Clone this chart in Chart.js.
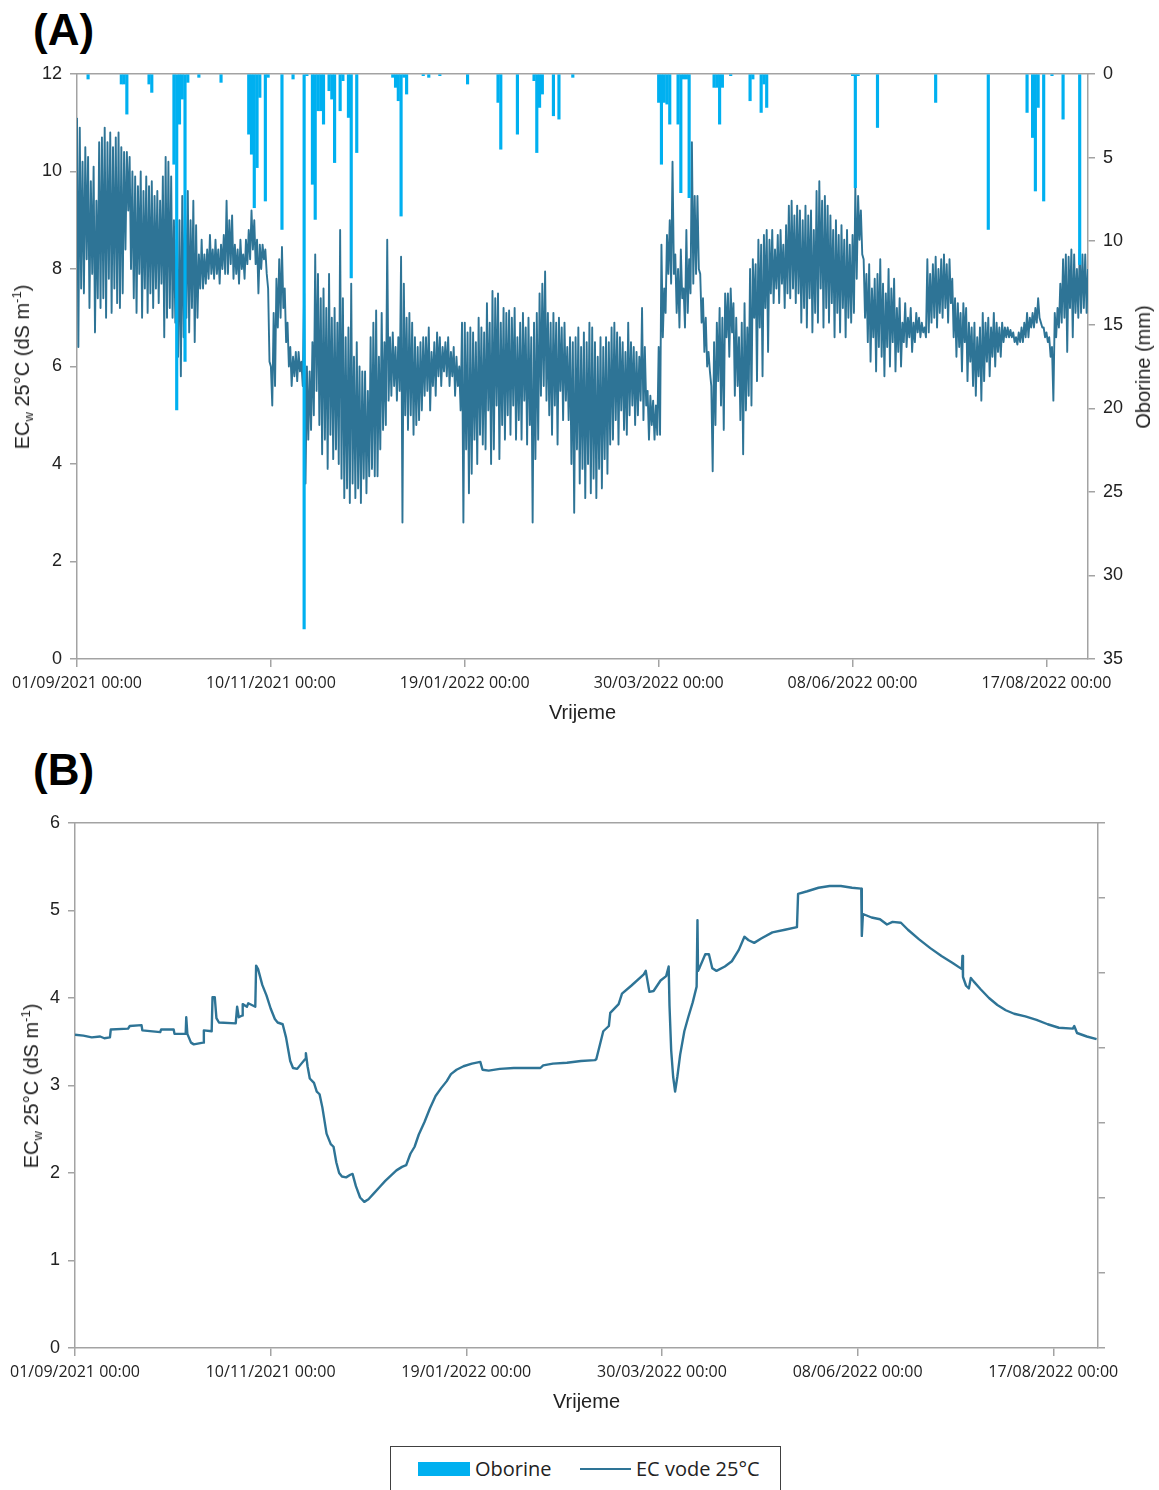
<!DOCTYPE html>
<html>
<head>
<meta charset="utf-8">
<script src="https://cdn.jsdelivr.net/npm/chart.js"></script>
<style>
  html, body { margin: 0; padding: 0; background: #fff; }
  body { width: 1159px; height: 1490px; position: relative; overflow: hidden;
         font-family: "Liberation Sans", Arial, sans-serif; color: #222; }
  .panel { position: absolute; left: 33px; font: bold 44px/44px "Liberation Sans", Arial, sans-serif; color: #000; }
  .vt { position: absolute; transform: translate(-50%, -50%) rotate(-90deg); white-space: nowrap;
        font: 20px/24px "Liberation Sans", Arial, sans-serif; color: #222; }
  .vt sub { font-size: 13px; vertical-align: -4px; line-height: 0; }
  .vt sup { font-size: 13px; vertical-align: 8px; line-height: 0; }
  canvas { position: absolute; left: 0; }
  #legend { position: absolute; left: 390px; top: 1446px; width: 391px; height: 70px; box-sizing: border-box;
            border: 1.5px solid #404040; font: 20px "Open Sans", sans-serif; color: #222; }
  #legend .sw { position: absolute; left: 27px; top: 15px; width: 52px; height: 14px; background: #00b0f0; }
  #legend .ln { position: absolute; left: 189px; top: 21px; width: 51px; height: 2px; background: #2e7496; }
  #legend .tx { position: absolute; top: 8px; line-height: 28px; white-space: nowrap; }
</style>
</head>
<body>
<div class="panel" style="top:8px">(A)</div>
<div class="panel" style="top:748px">(B)</div>

<canvas id="chartA" width="1159" height="680" style="top:60px"></canvas>
<canvas id="chartB" width="1159" height="619" style="top:810px"></canvas>

<div class="vt" style="left:22px; top:367px">EC<sub>w</sub> 25°C (dS m<sup>-1</sup>)</div>
<div class="vt" style="left:1143px; top:367px">Oborine (mm)</div>
<div class="vt" style="left:31px; top:1086px">EC<sub>w</sub> 25°C (dS m<sup>-1</sup>)</div>

<div id="legend">
  <div class="sw"></div><div class="tx" style="left:84px">Oborine</div>
  <div class="ln"></div><div class="tx" style="left:245px">EC vode 25°C</div>
</div>

<script>
// Time axis: days since 01/09/2021 00:00
const tickDays = [0, 70, 140, 210, 280, 350];
const tickLabels = ['01/09/2021 00:00', '10/11/2021 00:00', '19/01/2022 00:00',
                    '30/03/2022 00:00', '08/06/2022 00:00', '17/08/2022 00:00'];

// (A) daily precipitation, Oborine (mm)
const precipDay = [4, 16, 17, 18, 26, 27, 35, 36, 37, 38, 39, 40, 44, 52, 62, 63, 64, 65, 66, 68,
  69, 74, 78, 82, 83, 85, 86, 87, 88, 89, 91, 92, 93, 95, 96, 98, 99, 101, 114, 115,
  116, 117, 118, 119, 125, 127, 131, 141, 152, 153, 159, 165, 166, 167, 168, 172, 174, 179, 210, 211,
  212, 213, 214, 217, 218, 219, 220, 221, 230, 231, 232, 233, 236, 243, 244, 247, 248, 249, 280, 281,
  282, 289, 310, 329, 343, 345, 346, 347, 349, 352, 356, 362];
const precipMm = [0.3, 0.6, 0.6, 2.4, 0.6, 1.1, 5.4, 20.1, 3.0, 1.5, 17.2, 0.5, 0.2, 0.5, 3.6, 4.8, 8.0, 5.6, 1.4, 7.6,
  0.2, 9.3, 0.3, 33.2, 0.1, 6.6, 8.7, 2.2, 2.2, 3.0, 1.0, 1.5, 5.3, 2.2, 0.4, 2.6, 12.2, 4.7, 0.2, 0.8,
  1.6, 8.5, 0.2, 1.2, 0.1, 0.2, 0.1, 0.6, 1.7, 4.5, 3.6, 0.4, 4.7, 2.0, 1.2, 2.5, 2.7, 0.2, 1.7, 5.4,
  1.7, 1.8, 3.0, 3.0, 7.1, 0.3, 0.3, 7.4, 0.8, 0.8, 3.0, 0.8, 0.1, 1.6, 0.3, 2.3, 0.6, 2.0, 0.1, 6.8,
  0.1, 3.2, 1.7, 9.3, 2.3, 3.8, 7.0, 2.0, 7.6, 0.1, 2.7, 11.4];

// (A) EC of water at 25°C: daily maximum and minimum readings (dS/m), day 0..365
const ecHigh = [
  11.1, 10.9, 10.2, 10.5, 10.3, 9.8, 10.1, 9.4, 10.6, 10.7,
  10.9, 10.6, 10.8, 10.5, 10.7, 10.8, 10.5, 10.4, 10.4, 10.3,
  10.0, 9.9, 9.7, 10.0, 9.6, 9.9, 9.7, 9.8, 9.5, 9.6,
  9.4, 9.9, 10.3, 10.2, 9.9, 9.0, 8.6, 9.0, 9.5, 9.3,
  9.6, 9.0, 9.4, 8.9, 8.3, 8.6, 8.3, 8.4, 8.7, 8.4,
  8.6, 8.4, 8.5, 8.7, 9.4, 9.0, 9.1, 8.5, 8.4, 8.6,
  8.3, 8.6, 8.8, 9.2, 9.0, 8.6, 8.5, 8.5, 8.4, 7.6,
  6.0, 7.1, 7.8, 8.2, 8.45, 7.6, 6.9, 6.4, 6.2, 6.3,
  6.3, 6.1, 7.5, 6.0, 5.9, 6.5, 8.3, 7.9, 7.4, 7.6,
  7.2, 7.9, 7.0, 7.2, 6.9, 8.8, 7.4, 6.6, 6.8, 7.7,
  6.2, 6.5, 6.0, 5.9, 5.9, 5.5, 6.6, 6.9, 7.15, 6.2,
  7.1, 6.5, 8.6, 6.6, 6.7, 6.4, 6.6, 8.25, 7.7, 7.0,
  7.1, 6.9, 6.6, 6.4, 6.5, 6.6, 6.6, 6.8, 6.3, 6.5,
  6.7, 6.6, 6.4, 6.5, 6.6, 6.3, 6.4, 6.2, 6.0, 6.9,
  6.9, 6.7, 6.8, 6.7, 6.5, 7.0, 6.8, 6.7, 7.3, 6.9,
  7.55, 7.4, 7.5, 6.9, 7.2, 7.1, 7.15, 7.0, 7.2, 6.6,
  6.9, 7.1, 6.8, 7.0, 6.6, 6.9, 7.1, 7.5, 7.7, 7.95,
  7.1, 6.9, 7.1, 6.9, 7.0, 6.8, 6.9, 6.4, 6.6, 6.5,
  6.6, 6.8, 6.4, 6.7, 6.5, 6.9, 6.8, 6.5, 6.2, 6.6,
  6.4, 6.6, 6.5, 6.8, 6.9, 6.7, 6.6, 6.5, 6.3, 6.9,
  6.5, 6.4, 6.3, 6.2, 7.2, 6.4, 5.5, 5.4, 5.3, 5.2,
  6.4, 8.5, 7.6, 8.7, 9.0, 10.2, 8.3, 8.0, 8.4, 7.6,
  8.8, 8.2, 10.6, 9.5, 9.5, 7.9, 7.4, 7.0, 6.3, 5.6,
  6.5, 6.9, 7.2, 7.0, 7.5, 7.5, 7.6, 7.3, 7.0, 6.6,
  6.9, 7.3, 6.8, 8.0, 8.2, 8.1, 8.6, 8.5, 8.7, 8.8,
  8.6, 8.8, 8.4, 8.7, 8.8, 8.5, 8.9, 9.3, 9.4, 9.1,
  9.3, 9.2, 9.0, 9.3, 9.1, 9.2, 8.8, 9.6, 9.8, 9.4,
  9.5, 9.3, 9.1, 8.8, 9.0, 8.7, 8.9, 8.6, 8.8, 8.5,
  8.7, 9.7, 9.5, 9.2, 8.2, 7.9, 8.1, 7.6, 7.8, 7.9,
  8.2, 7.7, 7.5, 8.0, 7.6, 7.8, 7.2, 7.4, 6.9, 7.3,
  7.0, 7.2, 6.9, 7.1, 7.0, 6.9, 6.8, 8.2, 7.9, 8.1,
  8.25, 8.0, 8.2, 8.3, 8.1, 8.2, 7.8, 7.4, 7.3, 7.1,
  7.3, 7.2, 6.9, 6.8, 6.9, 6.6, 6.8, 7.1, 6.9, 7.0,
  6.8, 7.1, 6.9, 6.8, 6.9, 6.8, 6.8, 6.75, 6.7, 6.6,
  6.7, 6.8, 6.9, 7.1, 7.0, 7.1, 7.2, 7.4, 6.9, 6.8,
  6.7, 6.6, 6.4, 7.1, 7.2, 7.7, 8.2, 8.3, 8.25, 8.4,
  8.3, 8.0, 8.4, 8.3, 8.3, 8.0];
const ecLow = [
  6.4, 7.6, 7.5, 8.2, 7.2, 7.9, 6.7, 7.4, 7.2, 7.4,
  7.0, 7.8, 7.1, 7.6, 7.3, 7.2, 7.5, 8.4, 9.2, 8.0,
  7.4, 7.1, 7.9, 7.0, 7.6, 7.1, 7.5, 7.2, 7.6, 7.3,
  7.7, 6.6, 7.0, 7.2, 7.0, 6.9, 6.2, 5.8, 6.6, 7.0,
  6.7, 7.2, 6.5, 7.0, 7.6, 7.6, 7.7, 7.8, 7.9, 7.8,
  7.9, 7.7, 8.0, 7.9, 7.9, 8.1, 7.8, 7.9, 7.7, 8.0,
  7.8, 8.1, 8.2, 8.4, 8.1, 7.5, 8.0, 8.2, 7.9, 6.1,
  5.2, 5.6, 6.8, 7.0, 7.2, 6.5, 6.0, 5.6, 5.8, 5.7,
  5.9, 5.6, 3.6, 4.5, 4.7, 5.0, 5.5, 4.8, 4.2, 4.5,
  3.9, 4.6, 4.1, 4.3, 4.0, 3.7, 3.3, 3.5, 3.2, 3.6,
  3.3, 3.5, 3.2, 3.7, 3.4, 3.75, 3.9, 3.75, 3.75, 4.3,
  4.7, 4.8, 5.3, 5.4, 5.6, 5.3, 5.5, 2.8, 5.0, 4.7,
  5.0, 4.6, 4.8, 4.9, 5.1, 5.4, 5.5, 5.1, 5.6, 5.4,
  5.8, 5.6, 5.9, 5.8, 5.6, 5.8, 5.4, 5.6, 5.1, 2.8,
  4.3, 3.4, 3.8, 4.5, 4.0, 4.6, 4.4, 4.3, 5.1, 4.0,
  4.3, 5.2, 4.1, 4.8, 4.5, 5.0, 4.6, 5.2, 4.5, 4.9,
  4.5, 5.3, 4.4, 4.8, 2.8, 4.1, 4.5, 5.4, 5.6, 5.3,
  5.0, 4.6, 5.2, 4.4, 5.5, 4.9, 5.3, 4.9, 4.0, 3.0,
  4.3, 3.6, 3.9, 3.3, 4.0, 3.4, 3.7, 3.3, 3.9, 3.5,
  4.1, 3.8, 4.4, 4.5, 4.9, 4.4, 5.1, 4.7, 4.6, 5.0,
  5.2, 4.8, 5.0, 5.3, 4.9, 5.2, 4.5, 4.8, 4.5, 4.6,
  4.6, 6.6, 7.1, 7.9, 7.7, 7.9, 7.1, 6.8, 7.4, 6.8,
  7.1, 7.5, 7.7, 7.9, 8.0, 6.9, 6.3, 6.0, 5.9, 3.85,
  4.8, 5.7, 5.2, 4.7, 6.6, 6.2, 6.7, 5.4, 5.6, 4.9,
  4.2, 5.1, 5.4, 5.2, 7.0, 5.7, 6.8, 5.8, 7.2, 6.3,
  7.5, 7.3, 7.6, 7.3, 7.7, 7.2, 7.5, 7.4, 7.6, 7.3,
  7.5, 6.9, 7.2, 6.8, 7.4, 6.7, 7.1, 6.9, 7.6, 6.8,
  7.2, 6.9, 7.3, 6.6, 7.1, 6.7, 7.2, 6.6, 7.0, 6.9,
  7.1, 7.8, 8.6, 8.3, 7.0, 6.5, 6.1, 6.6, 5.9, 6.4,
  6.2, 5.8, 6.4, 6.0, 6.5, 5.9, 6.3, 6.0, 6.5, 6.4,
  6.6, 6.3, 6.5, 6.7, 6.6, 6.7, 6.6, 6.7, 6.9, 7.0,
  6.8, 7.1, 7.0, 7.2, 6.9, 7.3, 6.6, 6.2, 6.4, 5.9,
  6.5, 5.7, 6.1, 5.6, 5.4, 5.8, 5.3, 5.7, 6.1, 5.8,
  6.2, 6.0, 6.3, 6.2, 6.5, 6.6, 6.6, 6.6, 6.5, 6.45,
  6.5, 6.5, 6.6, 6.6, 6.8, 6.8, 6.9, 7.0, 6.8, 6.6,
  6.5, 6.2, 5.3, 6.6, 6.8, 6.9, 7.0, 6.3, 7.2, 6.6,
  7.1, 7.0, 7.1, 7.2, 7.1];

// (B) EC of water at 25°C, second site (day, dS/m)
const bDay = [0, 3, 6, 9, 10.5, 12.5, 12.8, 19, 19.6, 23.8, 24.1, 30.5, 30.8, 35.3, 35.6, 39.6, 39.8, 40.2, 41.5, 42.5,
  45.8, 46.1, 48.9, 49.2, 50.0, 50.6, 51.5, 57.5, 58.0, 58.6, 59.8, 60.0, 61.5, 62.0, 64.5, 64.8, 65.5, 67.0, 68.5, 70.0,
  71.5, 72.5, 74.3, 75.5, 77.0, 78.0, 79.5, 81.0, 82.3, 82.6, 83.2, 84.0, 85.5, 86.5, 87.5, 88.5, 90.0, 91.5, 92.5, 93.5,
  94.5, 95.5, 97.0, 98.5, 99.3, 100.5, 102.0, 103.5, 105.0, 107.0, 109.0, 111.0, 113.0, 115.0, 117.0, 118.5, 120.0, 121.5, 123.0, 125.0,
  127.0, 129.0, 131.0, 133.0, 134.5, 136.5, 139.0, 142.0, 145.0, 145.8, 148.0, 152.0, 157.0, 162.0, 166.5, 167.5, 171.0, 176.0, 181.0, 186.0,
  186.5, 189.0, 191.0, 191.5, 194.5, 195.7, 199.0, 203.5, 204.2, 205.5, 207.0, 209.5, 211.5, 212.4, 212.7, 213.3, 214.0, 214.7, 215.5, 216.5,
  218.0, 219.4, 221.0, 222.4, 222.7, 222.9, 223.5, 225.5, 226.8, 228.0, 229.5, 232.5, 235.0, 237.5, 239.5, 241.0, 243.0, 245.5, 249.5, 254.0,
  258.3, 258.7, 262.0, 266.0, 270.0, 274.0, 278.0, 281.3, 281.5, 281.9, 285.0, 288.0, 290.5, 292.5, 295.5, 298.0, 302.0, 306.0, 310.0, 314.0,
  317.3, 317.5, 317.7, 318.8, 319.8, 320.5, 321.5, 324.0, 327.0, 330.0, 333.0, 336.0, 340.0, 344.0, 348.0, 352.0, 357.0, 357.5, 358.5, 362.0,
  365.5];
const bVal = [3.58, 3.57, 3.55, 3.56, 3.54, 3.55, 3.64, 3.65, 3.68, 3.69, 3.63, 3.61, 3.64, 3.64, 3.59, 3.59, 3.78, 3.59, 3.49, 3.47,
  3.49, 3.63, 3.62, 4.01, 4.01, 3.77, 3.72, 3.71, 3.90, 3.78, 3.80, 3.93, 3.90, 3.94, 3.90, 4.37, 4.33, 4.15, 4.03, 3.88,
  3.76, 3.72, 3.70, 3.55, 3.28, 3.20, 3.19, 3.25, 3.30, 3.37, 3.22, 3.08, 3.03, 2.93, 2.90, 2.75, 2.45, 2.33, 2.30, 2.12,
  2.00, 1.96, 1.95, 1.98, 1.99, 1.85, 1.72, 1.67, 1.70, 1.77, 1.84, 1.91, 1.97, 2.03, 2.07, 2.09, 2.22, 2.30, 2.44, 2.58,
  2.74, 2.88, 2.97, 3.05, 3.13, 3.18, 3.22, 3.25, 3.27, 3.18, 3.17, 3.19, 3.20, 3.20, 3.20, 3.23, 3.25, 3.26, 3.28, 3.29,
  3.30, 3.62, 3.68, 3.83, 3.93, 4.05, 4.14, 4.27, 4.31, 4.07, 4.08, 4.20, 4.25, 4.36, 3.91, 3.40, 3.10, 2.93, 3.10, 3.35,
  3.62, 3.78, 3.95, 4.13, 4.89, 4.31, 4.35, 4.50, 4.50, 4.34, 4.31, 4.36, 4.42, 4.55, 4.70, 4.66, 4.63, 4.68, 4.75, 4.78,
  4.81, 5.19, 5.22, 5.26, 5.28, 5.28, 5.26, 5.25, 4.71, 4.96, 4.92, 4.90, 4.84, 4.87, 4.86, 4.78, 4.67, 4.57, 4.48, 4.40,
  4.33, 4.48, 4.24, 4.14, 4.11, 4.23, 4.19, 4.10, 4.00, 3.92, 3.86, 3.82, 3.79, 3.75, 3.70, 3.66, 3.65, 3.68, 3.60, 3.56,
  3.53];

const EC_COLOR = '#2e7496';
const RAIN_COLOR = '#00b0f0';
const AXIS_COLOR = '#a3a3a3';
const TEXT_COLOR = '#222';

// Line points: each day contributes its maximum, then its minimum half a day later
const ecPoints = [];
ecHigh.forEach((h, d) => {
  ecPoints.push({ x: d, y: h });
  if (d < ecLow.length) ecPoints.push({ x: d + 0.5, y: ecLow[d] });
});
const rainPoints = precipDay.map((d, i) => ({ x: d, y: precipMm[i] }));
const bPoints = bDay.map((d, i) => ({ x: d, y: bVal[i] }));

const gridOpts = { display: true, offset: false, drawOnChartArea: false, drawTicks: true, tickLength: 7,
                   color: AXIS_COLOR, lineWidth: 1.5 };
const borderOpts = { display: true, color: AXIS_COLOR, width: 1.5 };
const tickFont = { family: '"Liberation Sans", Arial, sans-serif', size: 18 };

// fixed axis sizes so the plot frame lands at the same place on the page
function fixWidth(w) {
  return s => { s.width = w; s.paddingTop = 0; s.paddingBottom = 0; };
}
function fixHeight(h) {
  return s => { s.height = h; s.paddingLeft = 0; s.paddingRight = 0; };
}

function timeAxis(maxDay) {
  return {
    type: 'linear', position: 'bottom', min: 0, max: maxDay, offset: false,
    afterBuildTicks: s => { s.ticks = tickDays.map(v => ({ value: v })); },
    ticks: {
      autoSkip: false, maxRotation: 0, minRotation: 0, padding: 7, color: TEXT_COLOR,
      font: { family: '"Open Sans", sans-serif', size: 16 },
      callback: v => { const i = tickDays.indexOf(v); return i >= 0 ? tickLabels[i] : ''; }
    },
    grid: Object.assign({}, gridOpts, { tickLength: 8 }),
    border: borderOpts,
    title: { display: true, text: 'Vrijeme', color: TEXT_COLOR,
             font: { family: '"Liberation Sans", Arial, sans-serif', size: 20 }, padding: { top: 0, bottom: 15 } },
    afterFit: fixHeight(81)
  };
}
function topFrame(maxDay, h) {
  return {
    type: 'linear', position: 'top', min: 0, max: maxDay, offset: false,
    ticks: { display: false }, grid: { display: false, offset: false }, border: borderOpts,
    afterFit: fixHeight(h)
  };
}

const common = {
  responsive: false, animation: false, events: [],
  layout: { padding: 0 },
  plugins: { legend: { display: false }, tooltip: { enabled: false } }
};

new Chart(document.getElementById('chartA'), {
  type: 'line',
  data: {
    datasets: [
      { type: 'bar', label: 'Oborine', data: rainPoints, xAxisID: 'x', yAxisID: 'yRain',
        backgroundColor: RAIN_COLOR, borderWidth: 0, barThickness: 2.5, grouped: false, order: 0 },
      { type: 'line', label: 'EC vode 25°C', data: ecPoints, xAxisID: 'x', yAxisID: 'y',
        borderColor: EC_COLOR, borderWidth: 1.9, borderJoinStyle: 'round', pointRadius: 0,
        tension: 0, fill: false, order: 1 }
    ]
  },
  options: Object.assign({}, common, {
    scales: {
      x: timeAxis(365),
      xTop: topFrame(365, 14),
      y: { position: 'left', min: 0, max: 12,
           ticks: { stepSize: 2, padding: 8, color: TEXT_COLOR, font: tickFont },
           grid: gridOpts, border: borderOpts, afterFit: fixWidth(77) },
      yRain: { position: 'right', reverse: true, min: 0, max: 35, beginAtZero: true,
           ticks: { stepSize: 5, padding: 8, color: TEXT_COLOR, font: tickFont },
           grid: gridOpts, border: borderOpts, afterFit: fixWidth(71) }
    }
  })
});

new Chart(document.getElementById('chartB'), {
  type: 'line',
  data: {
    datasets: [
      { label: 'EC vode 25°C', data: bPoints, xAxisID: 'x', yAxisID: 'y',
        borderColor: EC_COLOR, borderWidth: 2.4, borderJoinStyle: 'round', pointRadius: 0,
        tension: 0, fill: false }
    ]
  },
  options: Object.assign({}, common, {
    scales: {
      x: timeAxis(366),
      xTop: topFrame(366, 13),
      y: { position: 'left', min: 0, max: 6,
           ticks: { stepSize: 1, padding: 8, color: TEXT_COLOR, font: tickFont },
           grid: gridOpts, border: borderOpts, afterFit: fixWidth(75) },
      yRain: { position: 'right', reverse: true, min: 0, max: 35,
           ticks: { display: false, stepSize: 5 },
           grid: gridOpts, border: borderOpts, afterFit: fixWidth(61) }
    }
  })
});
</script>
</body>
</html>
